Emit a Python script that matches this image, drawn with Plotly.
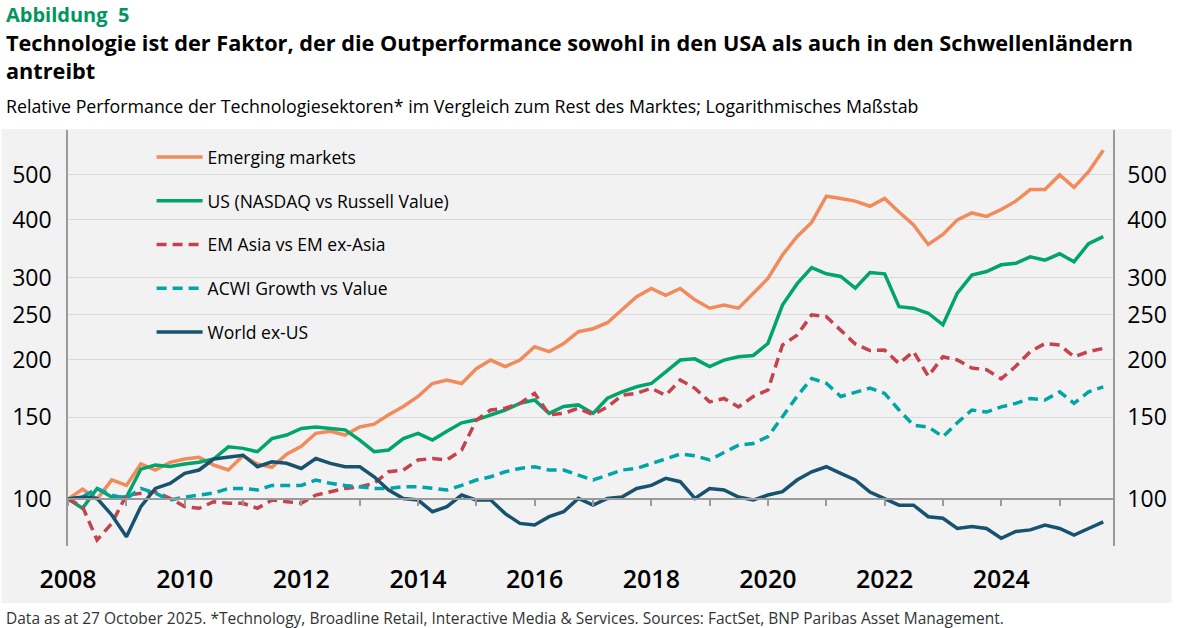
import pandas as pd
import plotly.graph_objects as go

# quarterly readings, Jan 2008 .. Oct 2025
dates = pd.date_range("2008-01-01", periods=72, freq="QS")

em = [100, 105, 100, 110, 107, 119, 115.5, 120, 122, 123, 118.4, 115.5,
      124, 119, 117, 125, 130, 138.6, 140, 137.4, 143, 145, 152, 158.3,
      166.4, 177.5, 180.5, 177.5, 191, 199.4, 193, 199.4, 213, 208, 216.5, 229.6,
      233, 240, 256, 273, 284.5, 275, 284.5, 269, 258, 262, 258, 277,
      299, 336, 368, 395, 450, 445, 439, 428, 445, 416, 390, 354,
      372, 400, 414, 407, 421, 439, 465, 465, 500, 470, 508, 565]

us = [100, 95.5, 105.4, 101, 101, 116, 118.4, 117.5, 119, 120, 122, 129.6,
      128.6, 126.5, 135, 137.4, 142, 143, 142, 141, 134, 126.5, 127.6, 135,
      138.6, 134, 140, 146, 148.2, 152, 155.6, 160.8, 163.5, 153, 158.3, 159.6,
      153, 165, 170.3, 174.6, 177.5, 188, 199.4, 200.6, 193, 199.4, 202.7, 204,
      216.5, 262, 291, 315.6, 306, 302, 285, 308, 306, 260, 258, 251.6,
      237.6, 278, 304, 309.5, 320, 322.5, 333, 327.5, 338, 325, 355.5, 368]

em_asia = [100, 96.3, 81.6, 88.6, 102, 103, 103.7, 100.3, 96.3, 95.5, 98.7, 97.9,
           97.9, 95.5, 99.5, 98.7, 97.9, 102, 103.7, 105.4, 106.3, 108.1, 114.5, 115.5,
           121.4, 122.3, 121.4, 127.5, 148, 155.6, 157, 160.8, 169, 152, 153, 157,
           152, 158, 167.4, 169, 173.3, 167.4, 180.6, 173.3, 162, 164.8, 158, 166.4,
           171.8, 214.8, 225.5, 249.6, 247.3, 231.8, 216, 209, 209.5, 196, 208, 184,
           202.7, 199.5, 191.7, 190, 181.7, 193.3, 208, 216.5, 214.8, 202.7, 208, 211.3]

acwi = [100, 101, 105.4, 102, 100.3, 105.4, 103, 99.5, 101, 102, 103, 105.4,
        105.4, 104.6, 107, 107, 107, 109.9, 108.1, 107, 106.3, 105.4, 105.4, 106.3,
        106.3, 105.4, 104.6, 107, 109.9, 111.7, 114.5, 116.4, 117.4, 115.5, 115.5, 112.6,
        109.9, 112.6, 115.5, 116.4, 119.4, 122.3, 125, 124, 121.4, 126, 130.7, 131.8,
        136.3, 150.5, 166.4, 182, 177.7, 166.4, 170, 173.5, 169, 155.6, 144.3, 143,
        136.3, 146.1, 155.6, 154, 158, 160.8, 164.8, 163.5, 170.3, 160.8, 170.3, 174.6]

world_xus = [100, 101, 100.3, 92.4, 82.9, 96.3, 105.4, 108, 113.6, 115.5, 122, 123.4,
             124.3, 117.4, 120.3, 119.4, 116.4, 122.3, 119.4, 117.4, 117.4, 111.7, 104.6, 100.3,
             99.5, 93.9, 96.3, 102, 99.5, 99.5, 93, 88.6, 87.9, 91.6, 93.9, 100.3,
             97, 100.3, 101, 105.4, 107, 110.8, 109, 100.3, 105.4, 104.6, 101, 99.5,
             102, 103.7, 109.9, 114.5, 117.4, 113.6, 109.9, 103.5, 100.3, 97, 97, 91.6,
             90.9, 86.4, 87.2, 86.4, 82.3, 85.1, 85.8, 87.9, 86.4, 83.6, 86.4, 89.3]

yticks = [100, 150, 200, 250, 300, 400, 500]

series = [
    ("Emerging markets", em, "#f28b5b", "solid"),
    ("US (NASDAQ vs Russell Value)", us, "#00a56b", "solid"),
    ("EM Asia vs EM ex-Asia", em_asia, "#c4434d", "10px,6px"),
    ("ACWI Growth vs Value", acwi, "#00a5a8", "10px,6px"),
    ("World ex-US", world_xus, "#17536e", "solid"),
]

FONT = "Open Sans"
BG = "#f2f2f2"

fig = go.Figure()
for i, (name, vals, col, dash) in enumerate(series):
    # last series sits on the second axis pair so the right axis and the 100 line get drawn
    axes = dict(xaxis="x2", yaxis="y2") if i == len(series) - 1 else {}
    fig.add_trace(go.Scatter(x=dates, y=vals, name=name, mode="lines",
                             legendgroup=name, **axes,
                             line=dict(color=col, width=3.5, dash=dash)))

yr = [1.8987, 2.7959]
xr = ["2008-01-01", "2025-12-01"]
pos100 = (2 - yr[0]) / (yr[1] - yr[0])

fig.update_layout(
    width=1179, height=628,
    margin=dict(l=67, r=59, t=130, b=82),
    paper_bgcolor="white", plot_bgcolor=BG,
    font=dict(family=FONT, color="black"),
    showlegend=True,
    legend=dict(x=0.08, y=0.978, xanchor="left", yanchor="top",
                bgcolor="rgba(0,0,0,0)", font=dict(size=17.5), tracegroupgap=18,
                itemwidth=46),
    xaxis=dict(type="date", range=xr, showgrid=False, showline=False,
               tick0="2008-01-01", dtick="M24", tickformat="%Y",
               ticks="outside", ticklen=11, tickcolor="rgba(0,0,0,0)",
               tickfont=dict(size=25, weight=600)),
    xaxis2=dict(type="date", range=xr, overlaying="x", anchor="free",
                position=pos100, showline=True, linecolor="#9a9a9a",
                linewidth=1.5, showgrid=False, showticklabels=False,
                tick0="2008-01-01", dtick="M12", ticks="outside",
                ticklen=6, tickcolor="#9a9a9a", tickwidth=1.5),
    yaxis=dict(type="log", range=yr, tickvals=yticks, ticktext=[str(v) for v in yticks],
               showgrid=True, gridcolor="#d9d9d9", gridwidth=1.2,
               showline=True, linecolor="#9a9a9a", linewidth=1.5,
               ticks="outside", ticklen=10, tickcolor="rgba(0,0,0,0)",
               tickfont=dict(size=23), zeroline=False),
    yaxis2=dict(type="log", range=yr, tickvals=yticks, ticktext=[str(v) for v in yticks],
                overlaying="y", side="right", anchor="x", showgrid=False,
                showline=True, linecolor="#9a9a9a", linewidth=1.5,
                ticks="outside", ticklen=8, tickcolor="rgba(0,0,0,0)",
                tickfont=dict(size=23)),
)

# grey panel behind the whole chart area
fig.add_shape(type="rect", xref="paper", yref="paper", layer="below",
              x0=-67 / 1053, x1=1112 / 1053, y0=-57 / 416, y1=417 / 416,
              fillcolor=BG, line_width=0)
# legend box hides the upper gridlines
fig.add_shape(type="rect", xref="paper", yref="paper", layer="between",
              x0=24 / 1053, x1=453 / 1053, y0=(546 - 345) / 416, y1=1,
              fillcolor=BG, line_width=0)

def note(text, py, size, color="black", bold=False):
    fig.add_annotation(text=f"<b>{text}</b>" if bold else text,
                       xref="paper", yref="paper", x=-64 / 1053, y=(546 - py) / 416,
                       xanchor="left", yanchor="middle", showarrow=False,
                       font=dict(size=size, color=color, family=FONT))

note("Abbildung  5", 14, 20, "#00965e", True)
note("Technologie ist der Faktor, der die Outperformance sowohl in den USA als auch in den Schwellenländern", 42, 21.7, bold=True)
note("antreibt", 70, 21.7, bold=True)
note("Relative Performance der Technologiesektoren* im Vergleich zum Rest des Marktes; Logarithmisches Maßstab", 106, 17.8)
note("Data as at 27 October 2025. *Technology, Broadline Retail, Interactive Media &amp; Services. Sources: FactSet, BNP Paribas Asset Management.", 618, 15.5, "#333333")

fig.write_html("out.html", config={"displayModeBar": False},
               post_script="document.body.style.margin='0';")
